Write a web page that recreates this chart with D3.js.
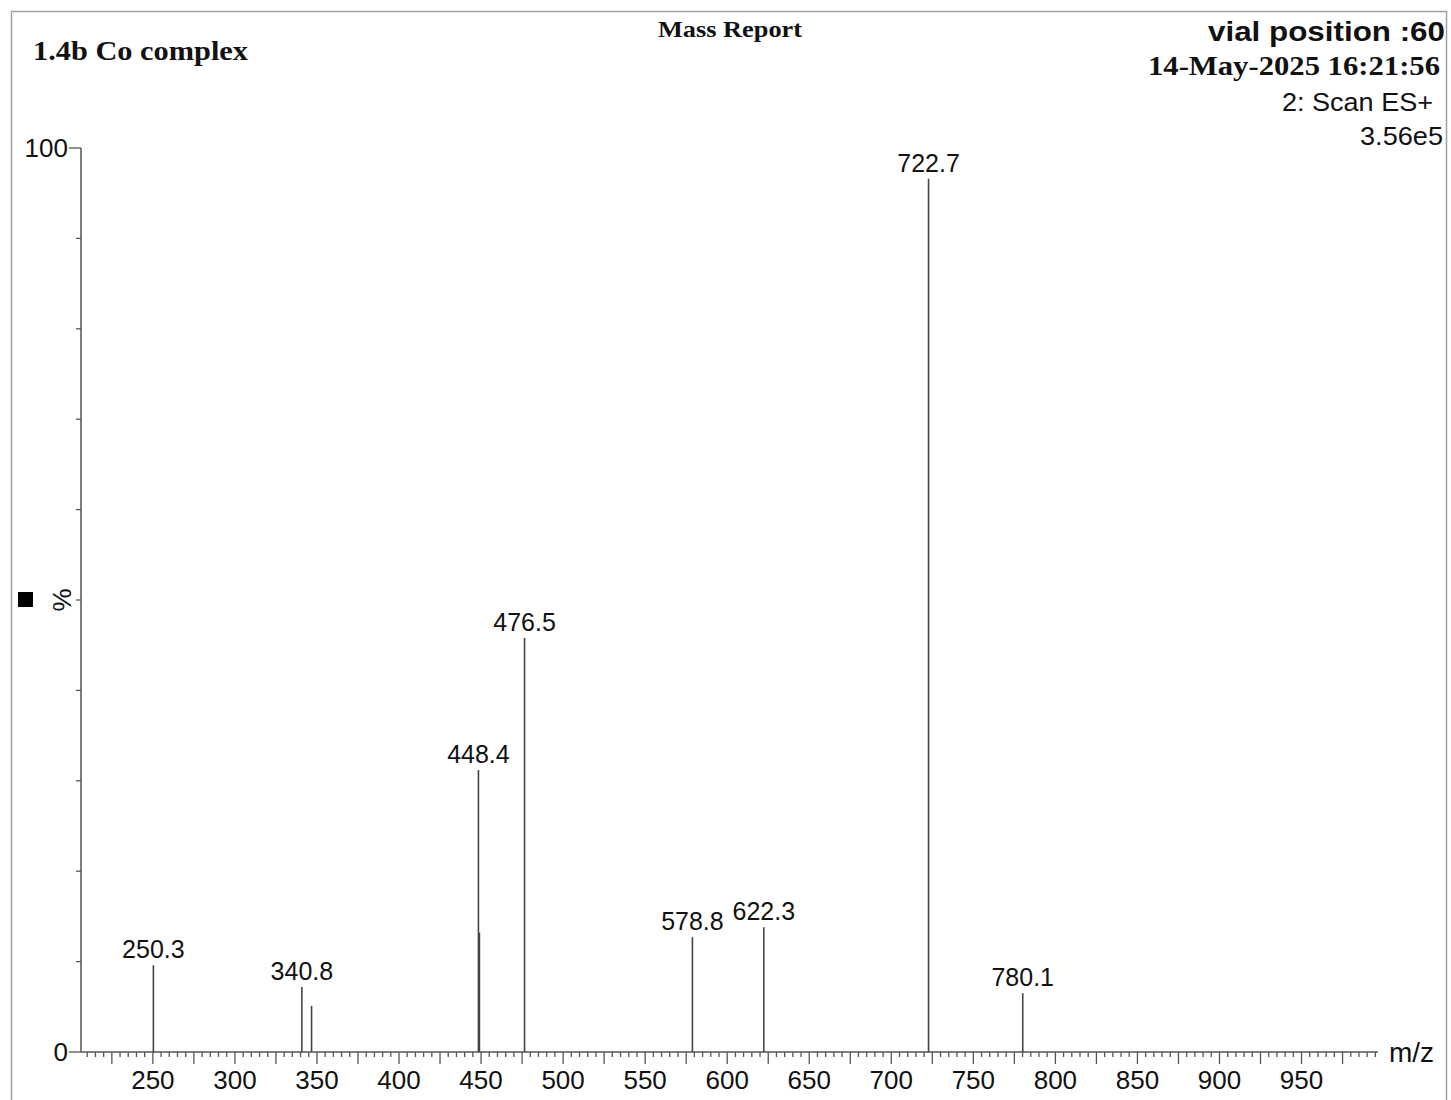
<!DOCTYPE html>
<html><head><meta charset="utf-8">
<script src="https://cdn.jsdelivr.net/npm/d3@7"></script>
<style>
html,body{margin:0;padding:0;background:#fff;}
svg{display:block;}
</style></head>
<body>
<svg id="chart" width="1451" height="1100"></svg>
<script>
// ---- data ----
const peakMz        = [250.3, 340.8, 346.7, 448.4, 449.0, 476.5, 578.8, 622.3, 722.7, 780.1];
const peakIntensity = [9.6,   7.2,   5.1,   31.2,  13.2,  45.8,  12.7,  13.8,  96.6,  6.5];
const peakLabels    = ["250.3","340.8","","448.4","","476.5","578.8","622.3","722.7","780.1"];
const xTickLabels   = [250, 300, 350, 400, 450, 500, 550, 600, 650, 700, 750, 800, 850, 900, 950];
const yTickLabels   = [0, 100];
const titleText  = "1.4b Co complex";
const headerText = "Mass Report";
const rightTexts = ["vial position :60", "14-May-2025 16:21:56", "2: Scan ES+", "3.56e5"];

// ---- layout ----
const svg = d3.select("#chart");
const x0 = 81, x1 = 1378, yTop = 148, yBot = 1052;
const x = d3.scaleLinear().domain([206.2, 996.6]).range([x0, x1]);
const y = d3.scaleLinear().domain([0, 100]).range([yBot, yTop]);
const sans = "Arial, 'Liberation Sans', sans-serif";
const serif = "'Times New Roman', 'Liberation Serif', serif";

// frame
svg.append("rect").attr("x", 11.5).attr("y", 11.5).attr("width", 1435).attr("height", 1100)
  .attr("fill", "none").attr("stroke", "#a0a0a0").attr("stroke-width", 1.5);

function hdr(xp, yp, anchor, fam, weight, size, len, txt) {
  svg.append("text").attr("x", xp).attr("y", yp).attr("text-anchor", anchor)
    .attr("font-family", fam).attr("font-weight", weight).attr("font-size", size)
    .attr("textLength", len).attr("lengthAdjust", "spacingAndGlyphs")
    .attr("fill", "#111").text(txt);
}
hdr(33, 60, "start", serif, "bold", 28, 215, titleText);
hdr(730, 37, "middle", serif, "bold", 24, 144, headerText);
hdr(1445, 41, "end", sans, "bold", 28, 237, rightTexts[0]);
hdr(1440, 75, "end", serif, "bold", 28, 292, rightTexts[1]);
hdr(1433, 111, "end", sans, "normal", 25, 151, rightTexts[2]);
hdr(1443, 145, "end", sans, "normal", 25, 83, rightTexts[3]);

// ---- x axis ----
const minorTicks = d3.range(210, 997, 5);
const gx = svg.append("g");
gx.append("line").attr("x1", x0).attr("x2", x1).attr("y1", yBot).attr("y2", yBot)
  .attr("stroke", "#555").attr("stroke-width", 1.5);
gx.selectAll("line.tk").data(minorTicks).join("line").attr("class", "tk")
  .attr("x1", d => x(d)).attr("x2", d => x(d)).attr("y1", yBot)
  .attr("y2", d => yBot + (d % 25 === 0 ? 12 : 5))
  .attr("stroke", "#555").attr("stroke-width", 1.3);
gx.selectAll("text").data(xTickLabels).join("text")
  .attr("x", d => x(d)).attr("y", 1089).attr("text-anchor", "middle")
  .attr("font-family", sans).attr("font-size", 26).attr("fill", "#111").text(d => d);
svg.append("text").attr("x", 1389).attr("y", 1062).attr("font-family", sans).attr("font-size", 28)
  .attr("fill", "#111").text("m/z");

// ---- y axis ----
const gy = svg.append("g");
gy.append("line").attr("x1", x0).attr("x2", x0).attr("y1", yTop).attr("y2", yBot)
  .attr("stroke", "#555").attr("stroke-width", 1.5);
gy.selectAll("line.tk").data(d3.range(0, 101, 10)).join("line").attr("class", "tk")
  .attr("x1", x0).attr("x2", d => x0 - ((d === 0 || d === 100) ? 12 : 5))
  .attr("y1", d => y(d)).attr("y2", d => y(d))
  .attr("stroke", "#555").attr("stroke-width", 1.3);
gy.selectAll("text").data(yTickLabels).join("text")
  .attr("x", 68).attr("y", d => y(d)).attr("dy", "0.35em").attr("text-anchor", "end")
  .attr("font-family", sans).attr("font-size", 26).attr("fill", "#111").text(d => d);
svg.append("text").attr("transform", `translate(71,${y(50)}) rotate(-90)`).attr("text-anchor", "middle")
  .attr("font-family", sans).attr("font-size", 26).attr("fill", "#111").text("%");
svg.append("rect").attr("x", 18).attr("y", y(50) - 8).attr("width", 15).attr("height", 15).attr("fill", "#000");

// ---- peaks ----
const peaks = peakMz.map((m, i) => ({m, v: peakIntensity[i], label: peakLabels[i]}));
svg.append("g").selectAll("line").data(peaks).join("line")
  .attr("x1", d => x(d.m)).attr("x2", d => x(d.m))
  .attr("y1", yBot).attr("y2", d => y(d.v))
  .attr("stroke", "#444").attr("stroke-width", 1.6);
svg.append("g").selectAll("text").data(peaks.filter(d => d.label)).join("text")
  .attr("x", d => x(d.m)).attr("y", d => y(d.v) - 7).attr("text-anchor", "middle")
  .attr("font-family", sans).attr("font-size", 25).attr("fill", "#111").text(d => d.label);
</script>
</body></html>
